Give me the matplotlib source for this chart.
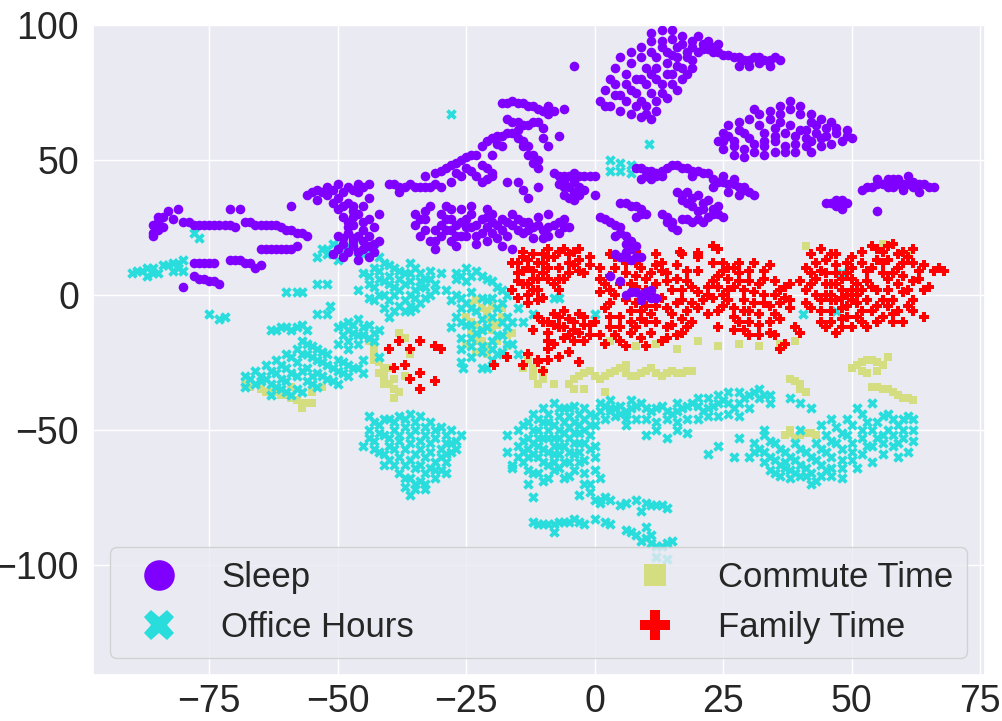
import numpy as np
import matplotlib
matplotlib.use("Agg")
import matplotlib.pyplot as plt
import seaborn as sns
from matplotlib.lines import Line2D

sns.set_theme(style="darkgrid")
plt.rcParams["font.family"] = ["Liberation Sans", "DejaVu Sans"]

# ----------------------------------------------------------------------
# t-SNE embedding, points (x, y)
# ----------------------------------------------------------------------
labels = ["Sleep", "Office Hours", "Commute Time", "Family Time"]

sleep_pts = [
    # far-left strips
    (-86, 23), (-86, 26), (-85, 29), (-83, 31), (-82, 28), (-84, 25), (-86, 22), (-81, 32),
    (-80, 27), (-78, 26), (-76, 26), (-74, 26), (-73, 26), (-71, 26), (-70, 25), (-71, 32), (-69, 32),
    (-68, 27), (-66, 26), (-64, 26), (-62, 26), (-61, 25), (-59, 24), (-57, 23), (-56, 22), (-59, 33),
    (-65, 17), (-63, 17), (-61, 17), (-59, 17), (-58, 18),
    (-78, 12), (-76, 12), (-74, 12), (-71, 13), (-69, 13), (-67, 12), (-66, 10), (-65, 11),
    (-78, 7), (-76, 6), (-74, 5), (-73, 4), (-80, 3),
    (-85, 24), (-85, 27), (-84, 29), (-79, 27), (-77, 26), (-75, 26), (-72, 26), (-67, 27), (-65, 26),
    (-63, 26), (-60, 24), (-58, 23), (-64, 17), (-62, 17), (-60, 17), (-77, 12), (-75, 12), (-70, 13),
    (-68, 12), (-75, 5), (-77, 6),
    # mid-left
    (-56, 37), (-54, 39), (-52, 40), (-50, 41), (-48, 40), (-46, 41), (-44, 41), (-54, 35), (-50, 36),
    (-48, 34), (-47, 31), (-49, 29), (-46, 30), (-48, 27), (-44, 36), (-50, 32), (-47, 26), (-45, 27),
    (-44, 28), (-42, 30), (-52, 37), (-46, 38),
    (-50, 22), (-48, 23), (-46, 22), (-44, 22), (-49, 19), (-47, 18), (-45, 17), (-43, 16), (-42, 20),
    (-51, 15), (-49, 14), (-46, 13), (-44, 14), (-47, 20),
    (-55, 38), (-53, 38), (-51, 39), (-49, 38), (-47, 39), (-45, 40), (-49, 33), (-47, 33), (-51, 34),
    (-45, 33), (-47, 29), (-48, 25), (-49, 21), (-47, 21), (-45, 20), (-43, 19), (-48, 16), (-46, 16),
    (-44, 18), (-50, 17), (-45, 24), (-43, 25),
    # centre-left
    (-40, 41), (-38, 40), (-36, 41), (-34, 40), (-32, 40), (-31, 41), (-30, 40), (-38, 38),
    (-39, 41), (-37, 40), (-35, 40), (-33, 40),
    (-34, 28), (-33, 24), (-32, 20), (-30, 30), (-30, 26), (-30, 22), (-28, 28), (-28, 24), (-28, 20),
    (-26, 32), (-26, 27), (-25, 22), (-24, 30), (-24, 25), (-22, 28), (-22, 23), (-20, 27), (-33, 31),
    (-32, 33), (-27, 18), (-23, 19), (-35, 26), (-31, 17), (-26, 22), (-21, 32), (-29, 33),
    (-33, 28), (-31, 24), (-31, 20), (-29, 28), (-29, 24), (-27, 26), (-27, 22), (-25, 28), (-25, 25),
    (-23, 26), (-23, 22), (-21, 25), (-21, 29), (-19, 26), (-17, 27), (-15, 28), (-13, 27), (-11, 26),
    (-9, 25), (-7, 27), (-13, 24), (-15, 24), (-17, 22), (-9, 22), (-19, 21), (-34, 22), (-35, 30),
    (-28, 32), (-24, 33), (-20, 23), (-6, 25),
    (-20, 30), (-18, 28), (-16, 26), (-14, 27), (-12, 25), (-10, 24), (-18, 24), (-14, 23), (-11, 29),
    (-9, 30), (-16, 30), (-10, 21), (-8, 26), (-6, 28), (-7, 23), (-12, 21), (-21, 20), (-18, 18),
    (-16, 17), (-5, 25),
    (-31, 45), (-29, 47), (-27, 49), (-25, 51), (-23, 52), (-26, 44), (-24, 46), (-22, 48), (-22, 42),
    (-20, 45), (-28, 42), (-33, 44),
    (-30, 46), (-28, 48), (-26, 50), (-24, 52), (-27, 45), (-25, 47), (-23, 44), (-21, 47), (-21, 43),
    (-18, 71), (-16, 72), (-14, 71), (-12, 70), (-10, 68), (-8, 68), (-17, 65), (-15, 64), (-13, 63),
    (-11, 64), (-10, 62), (-21, 57), (-19, 59), (-17, 60), (-15, 61), (-14, 57), (-18, 55), (-22, 55),
    (-20, 52), (-14, 55), (-13, 52), (-12, 49), (-11, 47), (-10, 58), (-9, 55), (-7, 59),
    (-17, 71), (-15, 71), (-13, 70), (-11, 69), (-9, 67), (-16, 64), (-14, 63), (-12, 64), (-20, 58),
    (-18, 59), (-16, 60), (-19, 56), (-15, 58), (-13, 55), (-12, 52), (-11, 50), (-9, 70), (-6, 69),
    (-20, 44), (-17, 42), (-15, 42), (-14, 39), (-13, 36), (-11, 40),
    (-8, 45), (-6, 44), (-4, 45), (-2, 44), (-7, 41), (-5, 40), (-3, 40), (-6, 37), (-4, 35), (-2, 39),
    (0, 44), (0, 37),
    (-7, 44), (-5, 44), (-3, 44), (-1, 44), (-6, 42), (-4, 42), (-4, 38), (-6, 40), (-3, 37), (-5, 36),
    # tail running down into the family cluster
    (1, 29), (3, 27), (5, 25), (6, 22), (7, 20), (8, 18), (6, 16), (5, 14), (7, 13), (9, 14), (3, 7),
    (5, 5), (6, 0), (8, 1), (10, 0), (12, -1), (9, -2), (11, 2), (4, 22),
    (2, 28), (4, 26), (5, 23), (6, 19), (7, 17), (4, 15), (6, 14), (8, 14), (7, 1), (9, 0), (11, -1),
    (10, 1),
    # top-middle
    (11, 97), (13, 98), (15, 98), (17, 96), (1, 72), (2, 76), (3, 80), (4, 84), (5, 88), (7, 90),
    (9, 92), (11, 94), (3, 70), (5, 68), (7, 67), (9, 66), (11, 65), (6, 72), (8, 75), (10, 78),
    (12, 80), (14, 82), (16, 85), (18, 88), (14, 90), (16, 92), (12, 88), (10, 84), (8, 80), (6, 78),
    (13, 75), (15, 78), (17, 80), (12, 72), (10, 70), (19, 84), (20, 90), (13, 94), (15, 89), (-4, 85),
    (2, 70), (4, 74), (4, 78), (6, 82), (7, 86), (9, 88), (11, 90), (13, 92), (15, 95), (17, 93),
    (19, 94), (18, 90), (16, 88), (14, 86), (12, 84), (11, 82), (9, 80), (7, 76), (5, 74), (9, 72),
    (11, 75), (13, 78), (15, 82), (17, 84), (19, 87), (8, 70), (10, 67), (12, 68), (14, 73), (16, 76),
    (18, 82),
    (19, 92), (21, 91), (23, 90), (25, 89), (27, 88), (29, 87), (31, 88), (33, 87), (35, 88), (22, 94),
    (20, 96), (24, 93), (28, 85), (32, 86), (34, 85),
    (22, 91), (24, 90), (26, 89), (28, 88), (30, 87), (32, 88), (34, 87), (21, 93), (23, 92), (30, 85),
    (36, 87),
    # top-right ring
    (24, 57), (25, 60), (26, 63), (25, 54), (27, 52), (29, 51), (31, 53), (33, 55), (35, 57), (37, 55),
    (39, 56), (41, 58), (43, 60), (45, 62), (47, 60), (49, 59), (48, 57), (46, 56), (44, 55), (42, 53),
    (30, 65), (32, 67), (34, 68), (36, 70), (38, 72), (40, 70), (42, 67), (44, 65), (28, 61), (35, 62),
    (38, 63), (33, 60), (40, 61), (30, 58), (46, 64), (37, 53),
    (25, 57), (27, 55), (29, 54), (31, 56), (33, 57), (35, 59), (37, 60), (39, 59), (41, 61), (43, 63),
    (45, 59), (47, 62), (49, 61), (50, 58), (26, 59), (28, 64), (32, 63), (34, 65), (36, 67), (38, 69),
    (40, 67), (42, 64), (36, 64), (31, 69), (27, 57), (29, 60), (44, 58), (42, 57), (39, 53), (35, 53),
    (33, 52), (41, 55),
    # middle
    (8, 47), (10, 46), (12, 45), (14, 47), (16, 48), (11, 43), (13, 44), (9, 43), (18, 47), (20, 46),
    (22, 45), (19, 44), (24, 42), (26, 41), (28, 40), (30, 38), (31, 37), (25, 44), (27, 43), (29, 39),
    (16, 38), (18, 38), (20, 37), (17, 35), (19, 33), (21, 32), (23, 30), (25, 29), (22, 35), (24, 33),
    (5, 34), (7, 33), (9, 32), (10, 30), (8, 29), (13, 30), (14, 27), (15, 25), (16, 24), (17, 28),
    (19, 27), (21, 27),
    (9, 47), (11, 46), (13, 46), (15, 48), (17, 47), (10, 44), (12, 44), (19, 46), (21, 45), (23, 43),
    (25, 42), (27, 41), (29, 40), (23, 40), (26, 38), (28, 37), (17, 37), (19, 36), (21, 34), (23, 32),
    (18, 34), (20, 31), (22, 29), (24, 30), (6, 34), (8, 33), (9, 30), (14, 29), (15, 27), (18, 28),
    (20, 28),
    # right
    (45, 34), (47, 35), (49, 34), (48, 32), (52, 39), (54, 40), (56, 41), (58, 40), (60, 41), (62, 42),
    (64, 41), (61, 44), (58, 43), (55, 43), (63, 38), (66, 40), (55, 31),
    (53, 40), (55, 41), (57, 40), (59, 41), (61, 41), (63, 41), (65, 40), (59, 43), (57, 43), (60, 39),
    (62, 40), (46, 34), (48, 35), (47, 33),
]

office_pts = [
    # far left
    (-90, 8), (-88, 9), (-86, 10), (-87, 7), (-85, 8), (-83, 11), (-81, 12), (-80, 13), (-82, 9), (-80, 9),
    (-89, 9), (-87, 10), (-86, 8), (-84, 11), (-82, 12), (-81, 10),
    (-78, 23), (-77, 21), (-60, 1), (-58, 1), (-57, 1), (-54, 4), (-52, 4), (-51.5, -4), (-54, -7),
    (-52, -7), (-75, -7), (-73, -9), (-72, -8), (-28, 67),
    # left lower cluster
    (-63, -13), (-61, -12), (-59, -13), (-57, -11), (-56, -13), (-62, -13), (-60, -12), (-58, -12),
    (-68, -30), (-66, -28), (-64, -26), (-62, -24), (-60, -22), (-58, -20), (-56, -22), (-54, -24),
    (-52, -26), (-50, -28), (-48, -30), (-66, -33), (-64, -31), (-62, -29), (-60, -27), (-58, -25),
    (-56, -27), (-54, -29), (-52, -31), (-50, -33), (-62, -34), (-60, -32), (-58, -30), (-56, -32),
    (-54, -34), (-60, -36), (-58, -35), (-57, -17), (-55, -19), (-53, -21), (-49, -25), (-47, -27),
    (-45, -29), (-68, -34), (-63, -37),
    (-65, -30), (-63, -28), (-61, -26), (-59, -23), (-57, -22), (-55, -23), (-53, -25), (-51, -27),
    (-49, -29), (-67, -31), (-65, -32), (-63, -33), (-61, -31), (-59, -29), (-57, -28), (-55, -30),
    (-53, -30), (-51, -32), (-61, -35), (-59, -37), (-57, -36), (-55, -33), (-56, -18), (-54, -20),
    (-52, -22), (-50, -24), (-48, -26), (-46, -27),
    (-50, -12), (-48, -10), (-46, -9), (-44, -11), (-42, -13), (-49, -15), (-47, -14), (-45, -15),
    (-43, -17), (-50, -18), (-46, -18), (-48, -20), (-45, -24), (-42, -23),
    (-49, -11), (-47, -11), (-45, -12), (-43, -14), (-48, -13), (-46, -15), (-48, -17), (-44, -16),
    # upper middle
    (-53, 17), (-51, 19), (-49, 16), (-47, 18), (-45, 15), (-43, 17), (-42, 14), (-50, 13), (-54, 14),
    (-52, 17), (-50, 18), (-48, 18), (-46, 16), (-44, 16), (-52, 15),
    (-45, 8), (-43, 10), (-41, 12), (-39, 10), (-37, 8), (-35, 10), (-33, 6), (-31, 4), (-44, 4),
    (-42, 6), (-40, 4), (-38, 2), (-36, 0), (-34, 3), (-32, 0), (-42, 0), (-40, -2), (-38, -4),
    (-36, -6), (-34, -3), (-40, -8), (-35, -5), (-30, 8), (-29, 2), (-44, -1), (-46, 2),
    (-44, 7), (-42, 9), (-40, 11), (-38, 9), (-36, 8), (-34, 8), (-32, 6), (-43, 3), (-41, 5), (-39, 3),
    (-37, 4), (-35, 2), (-33, 3), (-31, 2), (-43, -2), (-41, 0), (-39, 0), (-37, -2), (-35, -1),
    (-33, -1), (-41, -5), (-39, -6), (-37, -6), (-36, -4), (-38, 6), (-40, 7), (-36, 5), (-34, 5),
    (-32, 9), (-36, 12),
    (-25, 10), (-27, 6),
    (-27, 8), (-25, 5), (-23, 9), (-21, 6), (-19, 3), (-17, 0), (-27, 0), (-25, -3), (-23, -6),
    (-21, -2), (-19, -5), (-17, -8), (-27, -8), (-25, -11), (-23, -14), (-21, -12), (-19, -15),
    (-17, -12), (-15, -5), (-26, -16), (-24, -19), (-22, -21), (-20, -24), (-18, -21), (-16, -18),
    (-28, -12), (-26, -25), (-21, -27), (-15, -22), (-14, -10), (-28, -2), (-25.7, -27), (-22, -27),
    (-26, 7), (-24, 7), (-22, 7), (-20, 5), (-18, 2), (-26, -1), (-24, 1), (-22, -1), (-20, -1),
    (-18, -3), (-26, -5), (-24, -5), (-22, -9), (-20, -8), (-18, -10), (-16, -10), (-26, -10),
    (-24, -11), (-22, -13), (-20, -17), (-18, -15), (-24, -16), (-22, -19), (-20, -20), (-17, -18),
    (-26, -20), (-24, -23), (-19, -22),
    (-12, -7), (-8, -1), (0, -7), (-7, -1), (3, 50), (5, 49), (7, 48), (3, 46), (5, 46), (7, 45),
    (10.5, 56), (48, 8), (40.5, -7), (47, -6),
    # lower left blob
    (-44, -50), (-42, -48), (-40, -46), (-38, -45), (-36, -44), (-34, -45), (-32, -47), (-30, -49),
    (-43, -54), (-41, -52), (-39, -50), (-37, -49), (-35, -50), (-33, -52), (-31, -53), (-29, -55),
    (-42, -58), (-40, -56), (-38, -54), (-36, -55), (-34, -57), (-32, -58), (-30, -60), (-28, -58),
    (-40, -61), (-38, -60), (-36, -61), (-34, -63), (-32, -64), (-30, -65), (-38, -66), (-36, -68),
    (-34, -69), (-37, -71), (-35, -72), (-33, -70), (-31, -68), (-29, -62), (-27, -57), (-44, -45),
    (-45, -56), (-28, -50), (-26, -52),
    (-43, -47), (-41, -46), (-39, -47), (-37, -46), (-35, -47), (-33, -49), (-31, -50), (-29, -52),
    (-42, -51), (-40, -53), (-38, -52), (-36, -52), (-34, -54), (-32, -55), (-30, -57), (-28, -55),
    (-43, -57), (-41, -59), (-39, -57), (-37, -57), (-35, -59), (-33, -60), (-31, -62), (-29, -59),
    (-39, -63), (-37, -63), (-35, -64), (-33, -66), (-31, -65), (-37, -68), (-35, -70), (-33, -72),
    (-36, -74), (-27, -54), (-41, -63), (-44, -53), (-29, -66),
    # lower middle blob
    (-15, -50), (-15, -56), (-14, -62), (-13, -47), (-13, -53), (-12, -59), (-12, -66), (-11, -50),
    (-11, -56), (-10, -62), (-10, -69), (-9, -47), (-9, -53), (-8, -59), (-8, -65), (-7, -50),
    (-7, -56), (-6, -62), (-6, -68), (-5, -45), (-5, -53), (-4, -59), (-4, -65), (-3, -48), (-3, -55),
    (-2, -61), (-2, -70), (-1, -52), (-13, -70), (-16, -63), (-1, -44), (1, -40), (3, -39), (5, -41),
    (6, -44), (4, -45), (2, -46), (0, -48), (-2, -42), (-4, -41), (-6, -42), (-8, -40), (-10, -42),
    (-12, -44), (-1, -73), (1, -76), (1, -68), (-3, -74), (0, -60), (0, -56), (-17, -58), (-17, -52),
    (-16, -64), (-12, -75),
    (-14, -48), (-14, -54), (-14, -58), (-13, -60), (-13, -65), (-12, -50), (-12, -55), (-11, -53),
    (-11, -60), (-11, -66), (-10, -47), (-10, -53), (-10, -57), (-9, -50), (-9, -58), (-9, -63),
    (-9, -68), (-8, -48), (-8, -53), (-8, -56), (-8, -62), (-7, -45), (-7, -53), (-7, -59), (-7, -64),
    (-6, -47), (-6, -51), (-6, -56), (-5, -49), (-5, -58), (-5, -62), (-5, -67), (-4, -47), (-4, -51),
    (-4, -55), (-3, -51), (-3, -58), (-3, -62), (-2, -46), (-2, -50), (-2, -55), (-1, -48), (-1, -57),
    (0, -45), (1, -43), (3, -42), (2, -41), (4, -42), (-3, -44), (-5, -42), (-7, -42), (-9, -44),
    (-11, -46), (-15, -60), (-13, -57), (-2, -66), (0, -65), (-1, -70),
    (-12, -84), (-10, -85), (-8, -85), (-6, -84), (-4, -83), (-2, -85), (-8, -88), (0, -83), (2, -84),
    (3, -85), (6, -87), (8, -89), (9, -91), (11, -92), (13, -93), (14, -92), (15, -91), (11, -89),
    (10, -86), (0, -76), (2, -75), (5, -78), (8, -76), (10, -77), (12, -78), (14, -79), (9, -80),
    (-11, -85), (-9, -85), (-7, -84), (-5, -84), (-3, -84), (7, -88), (10, -90), (12, -93), (1, -77),
    (3, -76), (6, -77), (11, -78), (13, -78),
    (12, -97), (14, -98),
    # middle strip
    (5, -44), (7, -42), (9, -40), (11, -43), (13, -41), (15, -44), (17, -42), (19, -40), (21, -43),
    (23, -41), (25, -39), (27, -42), (29, -38), (31, -36), (33, -37), (8, -46), (12, -47), (16, -47),
    (20, -46), (24, -45), (28, -45), (10, -52), (14, -53), (18, -51), (26, -36), (22, -38), (30, -42),
    (34, -40), (6, -48), (3, -43),
    (6, -43), (8, -41), (10, -42), (12, -42), (14, -43), (16, -43), (18, -41), (20, -41), (22, -42),
    (24, -40), (26, -40), (28, -40), (30, -37), (32, -38), (10, -46), (14, -46), (18, -46), (22, -45),
    (26, -44), (6, -46), (7, -39), (16, -40), (20, -38), (24, -37), (28, -36), (32, -35), (34, -37),
    (12, -50), (16, -50),
    # right blob
    (31, -55), (33, -52), (33, -58), (35, -55), (35, -61), (37, -58), (37, -64), (39, -55), (39, -61),
    (40, -67), (41, -58), (41, -64), (43, -55), (43, -61), (44, -67), (45, -52), (45, -58), (46, -64),
    (47, -49), (47, -55), (48, -61), (49, -46), (49, -52), (50, -58), (51, -64), (52, -44), (52, -50),
    (53, -56), (54, -62), (55, -47), (55, -53), (56, -59), (57, -44), (57, -50), (58, -56), (59, -48),
    (60, -53), (61, -45), (61, -58), (62, -50), (36, -67), (42, -70), (38, -68), (30, -60), (34, -65),
    (48, -68), (51, -42), (46, -46), (44, -48), (40, -50), (54, -40), (59, -60), (38, -38), (40, -40),
    (42, -42), (22, -59), (24, -56), (27, -60), (33, -50), (28, -53),
    (32, -57), (34, -54), (34, -60), (36, -57), (36, -63), (38, -60), (38, -65), (40, -57), (40, -63),
    (42, -60), (42, -66), (44, -57), (44, -63), (46, -54), (46, -60), (46, -67), (48, -51), (48, -57),
    (48, -64), (50, -48), (50, -55), (50, -61), (52, -53), (52, -59), (53, -47), (54, -50), (54, -56),
    (56, -45), (56, -52), (56, -55), (58, -46), (58, -52), (59, -55), (60, -46), (60, -50), (62, -54),
    (62, -46), (33, -62), (39, -66), (43, -69), (37, -62), (45, -65), (41, -67), (31, -58), (35, -66),
]

commute_pts = [
    (-68, -33), (-65, -35), (-62, -36), (-60, -37), (-58, -39), (-56, -40), (-55, -36), (-53, -34),
    (-57, -42), (-59, -34), (-67, -34), (-64, -36), (-61, -37), (-59, -38), (-57, -40), (-55, -40),
    (-63, -36),
    (-43, -21), (-42, -25), (-41, -30), (-40, -33), (-38, -36), (-44, -17), (-38, -14), (-36, -22),
    (-37, -30), (-42, -29), (-40, -27), (-39, -38), (-43, -24), (-41, -27), (-39, -31), (-41, -33),
    (-39, -35), (-43, -19), (-37, -16),
    (-24, -3), (-22, -5), (-25, -8), (-23, -11), (-21, -9), (-24, -14), (-22, -17), (-20, -13),
    (-25, -18), (-23, -21), (-21, -22), (-19, -17), (-20, -4), (-18, -8), (-17, -19), (-16, -14),
    (-23, -2), (-21, -6), (-24, -10), (-22, -13), (-20, -10), (-23, -17), (-21, -19), (-19, -11),
    (-17, -15), (-18, -5),
    (-14, -27), (-12, -30), (-10, -28), (-11, -33), (-13, -24), (-12, -27), (-10, -31),
    (-5, -33), (-3, -30), (-1, -28), (1, -31), (3, -29), (5, -27), (7, -30), (9, -29), (11, -27),
    (13, -30), (15, -28), (17, -29), (19, -28), (-2, -35), (2, -36), (6, -26),
    (-4, -31), (-2, -29), (0, -30), (2, -30), (4, -28), (6, -29), (8, -30), (10, -28), (12, -29),
    (14, -29), (16, -29), (18, -28), (-4, -35), (-8, -33),
    (3, -17), (8, -19), (12, -18), (16, -20), (20, -17), (24, -19), (28, -18), (32, -19), (36, -18),
    (39, -17),
    (50, -27), (52, -25), (54, -24), (56, -26), (53, -29), (57, -23), (51, -26), (53, -24), (55, -25),
    (55, -28), (52, -28),
    (54, -34), (56, -35), (58, -36), (60, -38), (62, -39), (55, -34), (57, -35), (59, -37), (61, -38),
    (38, -31), (40, -33), (41, -36), (39, -32), (40, -35),
    (37, -52), (39, -53), (41, -51), (43, -52), (38, -50), (38, -51), (40, -52), (42, -51),
    (41, 18), (56, 19), (61, 15),
]

family_pts = [
    # left
    (-16, 12), (-15, 8), (-14, 14), (-14, 4), (-13, 10), (-12, 6), (-12, 15), (-11, 2), (-10, 12),
    (-10, 8), (-9, 17), (-8, 4), (-8, 14), (-7, 10), (-6, 6), (-5, 15), (-4, 11), (-3, 17), (-2, 8),
    (-16, 2), (-13, 0), (-11, -2), (-14, 16), (-6, 17), (-1, 14), (-15, -1),
    (-15, 12), (-15, 5), (-13, 13), (-13, 4), (-12, 9), (-11, 12), (-11, 6), (-9, 10), (-9, 6),
    (-9, 14), (-7, 16), (-7, 6), (-7, 2), (-5, 12), (-5, 8), (-3, 13), (-3, 9), (-1, 11), (-4, 16),
    (-10, 15), (-14, 9), (-12, 2), (-10, -1), (-13, -3),
    (-10, -10), (-9, -14), (-8, -7), (-7, -12), (-6, -16), (-5, -9), (-4, -13), (-3, -7), (-2, -11),
    (-1, -15), (-12, -13), (-8, -18),
    (-9, -10), (-7, -8), (-6, -12), (-5, -15), (-4, -10), (-3, -14), (-2, -8), (-1, -11), (-8, -11),
    (-11, -8), (-6, -6), (-9, -17), (-4, -17), (-2, -17),
    (-13, -22), (-11, -25), (-9, -20), (-7, -23), (-5, -21), (-3, -25), (-10, -28), (-14, -26),
    # middle
    (1, 10), (2, 4), (2, -5), (3, -12), (4, 14), (4, 0), (5, -8), (6, 8), (6, -2), (7, -14), (8, 12),
    (8, 3), (9, -6), (10, -10), (10, 6), (11, 0), (12, 15), (12, -4), (13, 9), (14, -12), (15, 2),
    (15, -7), (16, 11), (17, -2), (18, 5), (19, -10), (20, 1), (1, -15), (5, -17), (9, -16), (13, -17),
    (17, -14), (3, 7), (7, -10), (11, -14), (14, 5), (18, -6), (16, -15), (20, -5),
    (1, 6), (1, 1), (3, 2), (3, -3), (3, -8), (4, 10), (4, -15), (5, 4), (5, -12), (6, 12), (7, -6),
    (7, 4), (8, 7), (8, -3), (8, -12), (9, 10), (9, -9), (10, 2), (10, -4), (11, 8), (11, -7),
    (12, -10), (12, 4), (13, -1), (13, 12), (14, -5), (14, 8), (15, -11), (16, -3), (16, 6), (17, 2),
    (17, -9), (18, 9), (18, -12), (19, -3), (19, 3), (20, 9), (21, -2), (0, -10), (2, -18), (6, -19),
    (10, -19), (14, -16), (3, 15), (8, 16), (12, 11),
    (23, 18), (24, 17), (17, 15), (20, 14), (23, 12), (16.5, 16), (20, 15.5),
    # centre-right
    (22, 3), (23, -1), (24, 7), (25, -4), (26, 10), (26, 2), (27, -8), (28, 5), (29, -2), (30, 9),
    (30, -6), (31, 1), (32, -11), (33, 6), (33, -3), (34, 11), (35, -7), (36, 2), (37, -1), (38, -5),
    (39, -12), (27, -13), (30, -15), (34, -14), (37, -18), (22, -7), (24, -12), (36, -20), (40, -14),
    (38, 4), (28, 12),
    (22, 0), (23, 5), (24, -6), (24, 3), (25, 9), (25, 0), (26, -2), (26, 6), (27, -5), (27, 3),
    (28, 8), (28, -10), (29, 2), (29, -6), (30, 5), (30, -10), (31, -3), (32, 4), (32, -7), (33, 9),
    (33, 0), (34, -4), (34, -10), (35, 5), (35, 0), (36, -3), (36, -9), (37, 3), (38, -2), (29, -13),
    (32, -15), (35, -15), (31, 12), (27, 10), (25, 12),
    # right
    (40, 5), (41, -3), (42, 8), (43, 0), (43, 12), (44, -6), (45, 4), (46, 15), (46, -2), (47, 8),
    (48, -9), (48, 2), (49, -4), (49, 12), (50, 6), (50, -12), (51, 0), (52, 16), (52, -6), (53, 9),
    (54, 3), (55, -10), (55, 13), (56, -2), (57, 6), (58, 19), (58, -7), (59, 10), (60, 1), (61, -4),
    (62, 12), (63, 6), (64, -8), (65, 3), (66, 9), (67, 10), (68, 9), (46, 0), (48, -1), (50, 2),
    (47, 4), (49, 0), (51, -3), (45, -12), (47, -14), (53, -12), (56, 16), (54, 18), (61, 14),
    (60, -10), (62, -2), (64, 11), (57, 18), (59, 15), (44, 17), (42, 15),
    (41, 2), (41, 10), (42, -5), (42, 4), (43, 6), (44, -2), (44, 9), (45, 0), (45, 8), (45, 13),
    (46, 4), (46, -6), (47, -2), (47, 11), (48, 6), (48, -5), (49, 8), (49, -8), (50, -2), (50, 10),
    (51, 4), (51, -8), (52, 2), (52, 12), (53, -2), (53, 5), (54, -6), (54, 10), (55, 2), (55, -4),
    (56, 8), (56, 12), (57, -4), (57, 2), (58, 8), (58, -2), (59, 4), (59, -6), (60, 7), (60, 12),
    (61, 2), (62, 5), (62, -6), (63, 9), (64, 2), (44, -10), (46, -10), (48, -12), (52, -10),
    (56, -8), (58, -10), (50, 14), (47, 15), (55, 17), (60, 16), (62, 17), (57, 13),
    # small group on the left
    (-40, -20), (-38, -17), (-36, -20), (-34, -17), (-31, -19), (-30, -20), (-39, -27), (-36, -31),
    (-34, -29), (-37, -26), (-31, -32), (-34, -35), (-19.5, -26), (-17, -23), (-11, -24), (-9, -24),
]

palette = plt.cm.rainbow(np.linspace(0, 1, 4))
markers = ["o", "X", "s", "P"]
sizes = [48, 58, 32, 58]
series = [sleep_pts, office_pts, commute_pts, family_pts]
draw_order = [2, 1, 3, 0]

fig = plt.figure(figsize=(10.03, 7.21), dpi=100)
ax = fig.add_axes([0.0927, 0.0638, 0.8893, 0.9015])

for i in draw_order:
    pts = np.array(series[i], dtype=float)
    ax.scatter(pts[:, 0], pts[:, 1], s=sizes[i], marker=markers[i], color=palette[i],
               linewidths=0)

ax.set_xlim(-97.6, 75.9)
ax.set_ylim(-140.8, 100)
ax.set_xticks([-75, -50, -25, 0, 25, 50, 75])
ax.set_yticks([-100, -50, 0, 50, 100])
ax.tick_params(axis="x", labelsize=27, pad=0.5)
ax.tick_params(axis="y", labelsize=27, pad=4)

handles = [Line2D([], [], linestyle="none", marker=m, color=c, markersize=ms, markeredgewidth=0)
           for m, c, ms in zip(markers, palette, [22, 22, 16.5, 22])]
ax.legend(handles, labels, ncol=2, fontsize=25, loc="lower left", mode="expand",
          bbox_to_anchor=(0.019, 0.026, 0.961, 0.17), borderaxespad=0)

fig.savefig("out.png", dpi=100)
